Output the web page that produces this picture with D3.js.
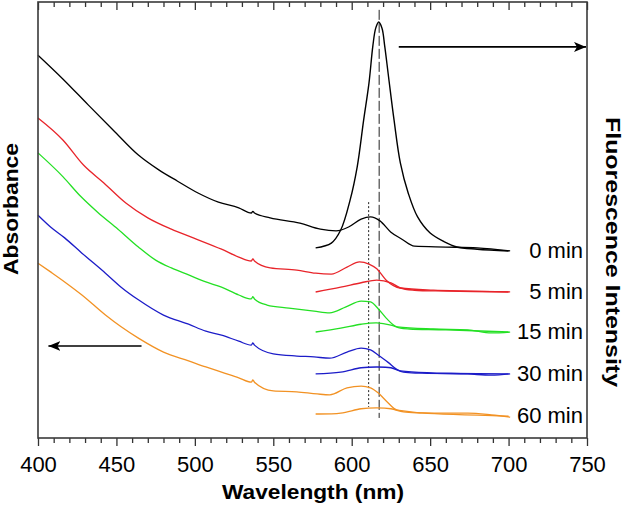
<!DOCTYPE html>
<html>
<head>
<meta charset="utf-8">
<script src="https://cdn.jsdelivr.net/npm/d3@7"></script>
<style>
  html, body { margin: 0; padding: 0; background: #fff; }
  svg { display: block; }
  text { font-family: "Liberation Sans", Arial, sans-serif; fill: #000; }
</style>
</head>
<body>
<svg id="chart" width="626" height="506"></svg>
<script>
// ---------------- DATA ----------------
const xTicksMajor = [400, 450, 500, 550, 600, 650, 700, 750];
const timeLabels = ["0 min", "5 min", "15 min", "30 min", "60 min"];
const seriesColors = ["#000000", "#e8242a", "#24e024", "#1c1cc8", "#f29224"];

// absorbance spectra [wavelength nm, absorbance a.u.]
const abs0 = [[400,.878],[416,.823],[432,.764],[448,.706],[464,.649],[477,.615],[489,.589],[502,.562],[515,.541],[528,.528],[536,.516],[537,.520],[538,.516],[548,.505],[567,.493],[580,.479],[590,.475],[598,.484],[606,.502],[612,.507],[618,.498],[625,.472],[632,.456],[640,.440],[660,.438],[680,.436],[701,.429]];
const abs5 = [[400,.734],[416,.683],[429,.626],[442,.585],[456,.539],[470,.505],[485,.479],[499,.459],[517,.433],[528,.415],[536,.406],[537,.411],[538,.406],[548,.390],[565,.385],[577,.378],[587,.376],[597,.392],[605,.404],[611,.399],[616,.388],[622,.362],[631,.344],[652,.339],[674,.337],[701,.335]];
const abs15 = [[400,.654],[416,.599],[427,.555],[438,.518],[451,.479],[464,.438],[475,.408],[485,.390],[496,.374],[507,.358],[517,.346],[528,.328],[536,.319],[537,.324],[538,.319],[546,.305],[560,.298],[576,.291],[586,.287],[596,.300],[606,.314],[612,.312],[617,.296],[622,.275],[629,.255],[652,.250],[674,.248],[689,.241],[701,.243]];
const abs30 = [[400,.511],[408,.484],[417,.459],[428,.424],[443,.378],[453,.346],[464,.317],[480,.282],[496,.261],[507,.245],[517,.236],[528,.222],[536,.213],[537,.218],[538,.213],[550,.193],[565,.188],[576,.186],[586,.183],[597,.197],[606,.206],[612,.202],[617,.190],[623,.174],[631,.154],[652,.149],[674,.147],[689,.144],[701,.147]];
const abs60 = [[400,.401],[408,.381],[417,.358],[428,.328],[443,.282],[453,.255],[464,.229],[480,.197],[496,.177],[507,.163],[517,.151],[528,.138],[536,.128],[537,.133],[538,.128],[550,.108],[565,.106],[578,.101],[586,.099],[597,.115],[606,.119],[612,.115],[617,.103],[622,.085],[629,.064],[652,.057],[674,.057],[689,.053],[701,.048]];

// fluorescence spectra [wavelength nm, intensity a.u.]
const fl0 = [[577,.436],[587,.447],[593,.477],[599,.546],[603.5,.622],[607.6,.729],[611,.814],[613.5,.900],[615.3,.940],[617.2,.954],[619.3,.940],[621,.900],[623.5,.828],[627,.729],[631,.631],[636,.562],[642,.507],[650,.470],[659,.450],[667,.438],[680,.433],[700,.429]];
const fl5 = [[577,.335],[593,.346],[606,.356],[616,.362],[625,.356],[631,.344],[640,.339],[660,.337],[700,.335]];
const fl15 = [[577,.243],[593,.252],[606,.261],[616,.264],[625,.259],[631,.252],[637,.250],[660,.248],[700,.243]];
const fl30 = [[577,.147],[593,.151],[606,.161],[616,.163],[625,.161],[633,.151],[645,.149],[700,.147]];
const fl60 = [[577,.055],[593,.057],[606,.067],[616,.069],[625,.067],[633,.060],[645,.057],[700,.050]];

// reference lines: [wavelength, from, to, style]
const refLines = [[610.8, .541, .071, "dot"], [617.5, .982, .046, "dash"]];
// arrows: [fromWavelength, toWavelength, level]
const arrows = [[630, 750, .897], [466, 406, .211]];

// ---------------- CHART ----------------
const svg = d3.select("#chart");
const L = 38, R = 587, T = 2, B = 438;
const x = d3.scaleLinear().domain([400, 750]).range([L, R]);
const y = d3.scaleLinear().domain([0, 1]).range([B, T]);

const defs = svg.append("defs");
defs.append("marker").attr("id", "ah").attr("viewBox", "0 0 12 10")
  .attr("refX", 12).attr("refY", 5).attr("markerWidth", 12).attr("markerHeight", 10)
  .attr("markerUnits", "userSpaceOnUse").attr("orient", "auto")
  .append("path").attr("d", "M0,0 L12,5 L0,10 L3,5 Z").attr("fill", "#000");

const absSeries = [abs0, abs5, abs15, abs30, abs60];
const flSeries = [fl0, fl5, fl15, fl30, fl60];

const lineAbs = d3.line().x(d => x(d[0])).y(d => y(d[1])).curve(d3.curveMonotoneX);
const lineFl = d3.line().x(d => x(d[0])).y(d => y(d[1])).curve(d3.curveCatmullRom.alpha(0.5));

// reference lines
refLines.forEach(r => {
  svg.append("line")
    .attr("x1", x(r[0])).attr("x2", x(r[0]))
    .attr("y1", y(r[1])).attr("y2", y(r[2]))
    .attr("stroke", "#222").attr("stroke-width", 1)
    .attr("stroke-dasharray", r[3] === "dot" ? "2,2" : "10,3");
});

absSeries.forEach((s, i) => {
  svg.append("path").datum(s).attr("d", lineAbs)
    .attr("fill", "none").attr("stroke", seriesColors[i]).attr("stroke-width", 1.3)
    .attr("stroke-linejoin", "round");
});
flSeries.forEach((s, i) => {
  svg.append("path").datum(s).attr("d", lineFl)
    .attr("fill", "none").attr("stroke", seriesColors[i]).attr("stroke-width", 1.4);
});

// time labels
flSeries.forEach((s, i) => {
  svg.append("text").attr("x", 583).attr("y", y(s[s.length - 1][1]) + 7)
    .attr("text-anchor", "end").attr("font-size", 22).text(timeLabels[i]);
});

// arrows
arrows.forEach(a => {
  svg.append("line").attr("x1", x(a[0])).attr("x2", x(a[1]) + (a[1] > a[0] ? -1 : 1))
    .attr("y1", y(a[2])).attr("y2", y(a[2]))
    .attr("stroke", "#000").attr("stroke-width", 1.6).attr("marker-end", "url(#ah)");
});

// axes
const minorTicks = d3.range(400, 751, 10).filter(v => v % 50 !== 0);
const gB = svg.append("g").attr("transform", `translate(0,${B})`);
gB.call(d3.axisBottom(x).tickValues(minorTicks).tickSize(5).tickFormat(""));
gB.call(g => g.select(".domain").remove());
const gB2 = svg.append("g").attr("transform", `translate(0,${B})`);
gB2.call(d3.axisBottom(x).tickValues(xTicksMajor).tickSize(8).tickPadding(10).tickFormat(d3.format("d")));
gB2.call(g => g.select(".domain").remove());
gB2.selectAll("text").attr("font-size", 22).attr("font-family", "Liberation Sans, Arial, sans-serif").attr("fill", "#000");

const gT = svg.append("g").attr("transform", `translate(0,${T})`);
gT.call(d3.axisTop(x).tickValues(minorTicks).tickSize(-5).tickFormat(""));
gT.call(g => g.select(".domain").remove());
const gT2 = svg.append("g").attr("transform", `translate(0,${T})`);
gT2.call(d3.axisTop(x).tickValues(xTicksMajor).tickSize(-8).tickFormat(""));
gT2.call(g => g.select(".domain").remove());
svg.selectAll(".tick line").attr("stroke", "#333").attr("stroke-width", 1.3);

// frame
svg.append("rect").attr("x", L).attr("y", T).attr("width", R - L).attr("height", B - T)
  .attr("fill", "none").attr("stroke", "#3a3a3a").attr("stroke-width", 1.6);

// titles
svg.append("text").attr("x", (L + R) / 2 + 0.5).attr("y", 499).attr("text-anchor", "middle")
  .attr("font-size", 21).attr("font-weight", "bold")
  .attr("textLength", 182).attr("lengthAdjust", "spacingAndGlyphs").text("Wavelength (nm)");
svg.append("text").attr("transform", "translate(18,209) rotate(-90)").attr("text-anchor", "middle")
  .attr("font-size", 20).attr("font-weight", "bold")
  .attr("textLength", 132).attr("lengthAdjust", "spacingAndGlyphs").text("Absorbance");
svg.append("text").attr("transform", "translate(606,252) rotate(90)").attr("text-anchor", "middle")
  .attr("font-size", 21).attr("font-weight", "bold")
  .attr("textLength", 270).attr("lengthAdjust", "spacingAndGlyphs").text("Fluorescence Intensity");
</script>
</body>
</html>
